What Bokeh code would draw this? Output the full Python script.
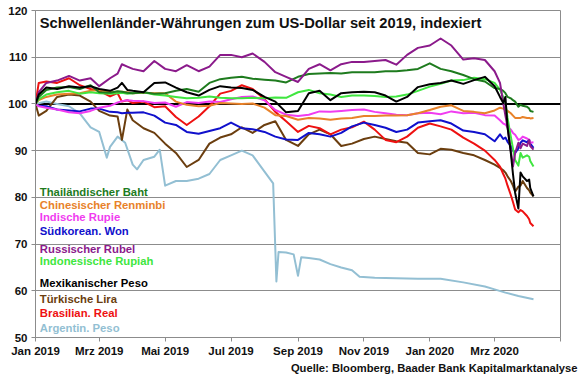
from datetime import datetime
from bokeh.plotting import figure
from bokeh.models import Range1d, FixedTicker, CustomJSTickFormatter, Span, Label, ColumnDataSource, Title
from bokeh.core.properties import value
from bokeh.embed import file_html
from bokeh.resources import INLINE

# ---------------- data ----------------
dates = ["2019-01-01", "2019-01-04", "2019-01-11", "2019-01-21", "2019-02-01", "2019-02-11",
         "2019-02-21", "2019-03-01", "2019-03-11", "2019-03-18", "2019-03-22", "2019-03-27",
         "2019-04-01", "2019-04-11", "2019-04-21", "2019-05-01", "2019-05-11", "2019-05-21",
         "2019-06-01", "2019-06-11", "2019-06-21", "2019-07-01", "2019-07-11", "2019-07-21",
         "2019-08-01", "2019-08-11", "2019-08-21", "2019-09-01", "2019-09-11", "2019-09-21",
         "2019-10-01", "2019-10-11", "2019-10-21", "2019-11-01", "2019-11-11", "2019-11-21",
         "2019-12-01", "2019-12-11", "2019-12-21", "2020-01-01", "2020-01-11", "2020-01-21",
         "2020-02-01", "2020-02-11", "2020-02-21", "2020-03-01", "2020-03-06", "2020-03-09",
         "2020-03-11", "2020-03-13", "2020-03-16", "2020-03-18", "2020-03-20", "2020-03-23",
         "2020-03-25", "2020-03-27", "2020-03-31", "2020-04-02", "2020-04-03", "2020-04-06"]

thb = [100, 101.5, 103, 103.5, 103.6, 103.2, 104, 102.5, 102.4, 102.7, 102.6, 102.4,
       102.3, 102.5, 102.2, 102.3, 102.8, 103.2, 102.6, 104.5, 105.3, 105.6, 105.8, 105.4,
       105.2, 105.0, 104.6, 105.8, 106.4, 106.5, 106.6, 106.5, 106.8, 106.8, 106.8, 107,
       107, 107.2, 107.5, 108.7, 107.5, 107, 106.2, 105.3, 104.8, 103.4, 103.2, 102.8,
       102.3, 101.5, 101.2, 100.8, 100.5, 99.4, 99.8, 99.6, 99.4, 99.0, 98.5, 98.3]

cny = [100, 100.8, 101.5, 102, 102.2, 102.3, 102.8, 103, 102.5, 102.6, 102.6, 102.5,
       102.3, 102.4, 102.3, 102.3, 100.5, 99.8, 99.5, 99.6, 100.2, 100.1, 100, 100.1,
       99.2, 97.6, 97.4, 96.6, 97.0, 96.9, 96.6, 96.9, 97.0, 97.4, 97.4, 97.5,
       97.5, 97.6, 98.0, 98.7, 99.4, 99.7, 98.5, 98.3, 98.0, 98.6, 99.2, 99.0,
       98.8, 98.5, 98.0, 97.5, 97.0, 97.0, 97.0, 97.2, 97.0, 97.0, 96.9, 97.0]

inr = [100, 99.5, 99.2, 98.8, 98.2, 98.0, 98.5, 99.2, 99.6, 100.3, 100.6, 100.8,
       100.7, 100.6, 100.2, 100.3, 99.4, 100.4, 100.2, 100.5, 100.4, 101, 101.5, 101.6,
       100.8, 98.7, 97.7, 97.4, 97.7, 98.4, 98.3, 98.5, 98.7, 98.8, 98.3, 98.0,
       97.7, 97.6, 98.0, 98.1, 97.8, 98.4, 98.0, 98.1, 97.6, 97.5, 96.5, 95.8,
       95.6, 95.0, 94.5, 93.8, 93.4, 92.3, 92.5, 93, 92.6, 92.3, 91.7, 91.8]

krw = [100, 99.6, 99.5, 98.8, 98.6, 98.4, 99.0, 99.0, 98.3, 98.2, 98.0, 98.1,
       98.1, 98.2, 97.5, 96.0, 95.5, 94.0, 93.6, 94.2, 94.8, 96.0, 94.8, 94.6,
       94.0, 93.0, 92.4, 92.3, 93.8, 93.5, 93.0, 93.8, 95.2, 96.0, 95.5, 94.9,
       94.0, 94.5, 96.0, 96.3, 96.5, 95.8, 94.3, 94.0, 93.5, 92.0, 93.5, 92.5,
       92.8, 91.9, 91.0, 90.0, 89.5, 90.5, 91.7, 92.2, 91.8, 92.3, 91.5, 90.6]

rub = [100, 102.5, 104.5, 105, 106, 105, 105.5, 103.8, 105.5, 106.5, 108.5, 108,
       107.5, 107, 109.2, 107.5, 107, 108.3, 107, 108, 110.5, 110.5, 110, 110.8,
       109, 106.8, 105.8, 104.7, 107.5, 108.5, 107.2, 108.5, 109, 109, 109.2, 109.4,
       108.4, 110.5, 112, 112.5, 114, 112.5, 109.5, 109.8, 109.4, 107, 104.5, 100.2,
       97.5, 95, 90, 86.6, 89.5, 91.7, 90.5, 91.5, 91, 92.3, 91, 90.2]

idr = [100, 101, 102, 102.5, 102.8, 102.2, 102.5, 102.3, 102.2, 102.3, 102.4, 102.2,
       102.3, 102.5, 102, 101.8, 101.5, 101.2, 101.3, 101.6, 101.3, 101.2, 101.2, 101.3,
       101.2, 101.4, 101.3, 102.5, 103.0, 102.3, 102, 101.5, 101.8, 101.8, 101.7, 101.5,
       101.6, 102, 102.8, 103.7, 104.3, 105, 105.1, 105.6, 105.3, 104.5, 103, 101.5,
       100.2, 97, 93, 90.5, 88, 86.8, 89.5, 88.5, 89.0, 88.7, 87.8, 86.6]

mxn = [100, 102, 103.5, 103.2, 103.8, 103.5, 103.8, 103.2, 102.8, 103.5, 104.5, 103,
       102.8, 102.5, 104.5, 104.6, 103.5, 102.5, 101.8, 103.0, 103.8, 103.5, 103.4, 103,
       101.5, 100.5, 98.2, 98.5, 102.3, 102.8, 100.8, 102.3, 102.5, 102.6, 102.5, 101.8,
       100.5, 101.5, 103.6, 104.2, 104.5, 105, 104.3, 105.1, 105.8, 103.8, 101.5, 100.2,
       101.5, 95, 89.5, 85, 81, 77.6, 85.3, 84.5, 83.5, 83.8, 82, 80.2]

tryl = [100, 97.5, 98.5, 101.5, 102.0, 101.8, 100.5, 98.5, 97.5, 97.3, 92.3, 98.8,
        96.5, 94.8, 93.8, 91.5, 89.5, 86.5, 88.0, 91.5, 92.8, 93.5, 95.0, 93.8,
        95.5, 96.3, 92.3, 91.0, 93.5, 94.5, 93.5, 91.0, 91.5, 92.5, 93.0, 92.5,
        92.0, 91.7, 89.5, 89.2, 90.4, 90.2, 89.5, 89.0, 88.0, 87.0, 86.3, 85.8,
        85.3, 84.5, 83.5, 82.5, 81.2, 82.3, 82.5, 83.5, 82.0, 81.5, 81.0, 80.2]

brl = [100, 104.5, 104.8, 104.5, 105.5, 104.0, 103.2, 102.8, 101.6, 102.3, 100.5, 100.8,
       100.2, 100.5, 99.3, 99.5, 97.2, 95.5, 97.3, 99.5, 102.2, 102.8, 104.0, 103.2,
       101, 98.3, 96.3, 94.0, 95.3, 94.8, 93.5, 94.5, 95.0, 96.2, 94.5, 92.3,
       91.8, 93.0, 94.9, 95.8, 95.2, 94.5, 92.8, 91.5, 90.0, 88.0, 86.6, 85.0,
       84.0, 82.5, 80.5, 79, 77.4, 76.8, 77.3, 77.0, 76.0, 75.3, 74.5, 73.8]

dates_ars = ["2019-01-01", "2019-01-11", "2019-01-21", "2019-02-01", "2019-02-11", "2019-02-21",
             "2019-03-01", "2019-03-08", "2019-03-11", "2019-03-18", "2019-03-25", "2019-04-01",
             "2019-04-05", "2019-04-11", "2019-04-21", "2019-04-26", "2019-05-01", "2019-05-11",
             "2019-05-21", "2019-06-01", "2019-06-11", "2019-06-21", "2019-07-01", "2019-07-11",
             "2019-07-21", "2019-08-01", "2019-08-09", "2019-08-12", "2019-08-14", "2019-08-21",
             "2019-08-28", "2019-09-01", "2019-09-04", "2019-09-11", "2019-09-21", "2019-10-01",
             "2019-10-11", "2019-10-21", "2019-10-28", "2019-11-11", "2019-12-01", "2019-12-21",
             "2020-01-11", "2020-02-01", "2020-02-21", "2020-03-01", "2020-03-11", "2020-03-23",
             "2020-04-06"]
ars = [100, 100.5, 100.0, 99.5, 98.0, 95.0,
       94.0, 88.5, 90.8, 93.0, 91.7, 87.0,
       86.0, 88.0, 88.7, 90.2, 82.5, 83.5,
       83.5, 84.0, 85.0, 88.0, 89.0, 90.0,
       89.0, 85.5, 83.0, 62.0, 68.3, 68.2,
       67.8, 63.2, 67.2, 67.0, 66.7, 65.7,
       65.0, 64.4, 63.0, 62.8, 62.7, 62.6,
       62.6, 61.8, 60.9, 60.3, 59.6, 58.9,
       58.2]

legend_names = ["Thailändischer Baht", "Chinesischer Renminbi", "Indische Rupie", "Südkorean. Won",
                "Russischer Rubel", "Indonesische Rupiah", "Mexikanischer Peso", "Türkische Lira",
                "Brasilian. Real", "Argentin. Peso"]
colors = ["#1e7b1e", "#e8822a", "#f03cf0", "#1010cc", "#8b1a8b",
          "#40e640", "#000000", "#6b3e0f", "#ee1111", "#93bfd3"]

tick_dates = ["2019-01-01", "2019-03-01", "2019-05-01", "2019-07-01", "2019-09-01",
              "2019-11-01", "2020-01-01", "2020-03-01", "2020-05-01"]
tick_labels = ["Jan 2019", "Mrz 2019", "Mai 2019", "Jul 2019", "Sep 2019",
               "Nov 2019", "Jan 2020", "Mrz 2020", ""]
y_ticks = [50, 60, 70, 80, 90, 100, 110, 120]

title_text = "Schwellenländer-Währungen zum US-Dollar seit 2019, indexiert"
source_text = "Quelle: Bloomberg, Baader Bank Kapitalmarktanalyse"

# ---------------- layout ----------------
legend_y = [81.2, 78.45, 75.7, 72.7, 68.9, 66.3, 61.6, 58.2, 55.2, 52.0]
FONT = "Liberation Sans"


def d(s):
    return datetime.strptime(s, "%Y-%m-%d")


def ms(s):
    return (d(s) - datetime(1970, 1, 1)).total_seconds() * 1000.0


p = figure(width=580, height=375, x_axis_type="datetime", output_backend="svg",
           toolbar_location=None,
           x_range=Range1d(d("2019-01-01"), d("2020-05-01")),
           y_range=Range1d(50, 120))
p.min_border_left = 35
p.min_border_right = 20
p.min_border_top = 10
p.min_border_bottom = 38
p.background_fill_color = "white"
p.border_fill_color = "white"
p.outline_line_color = "#8c8c8c"
p.outline_line_width = 1

# axes
tick_ms = [ms(t) for t in tick_dates]
p.xaxis.ticker = FixedTicker(ticks=tick_ms)
p.xaxis.formatter = CustomJSTickFormatter(
    args=dict(tvals=tick_ms, tlabels=tick_labels),
    code="const i = tvals.indexOf(tick); return i >= 0 ? tlabels[i] : '';")
p.yaxis.ticker = FixedTicker(ticks=y_ticks)
for ax in (p.xaxis[0], p.yaxis[0]):
    ax.axis_line_color = "#8c8c8c"
    ax.major_tick_line_color = "#8c8c8c"
    ax.major_tick_out = 4
    ax.major_tick_in = 0
    ax.minor_tick_line_color = None
    ax.major_label_text_font = FONT
    ax.major_label_text_font_style = "bold"
    ax.major_label_text_font_size = "11.5px"
    ax.major_label_text_color = "#111111"
p.xaxis.major_label_standoff = 3
p.yaxis.major_label_standoff = 4

p.xgrid.grid_line_color = None
p.ygrid.grid_line_color = "#8c8c8c"
p.ygrid.grid_line_width = 1

p.add_layout(Span(location=100, dimension="width", line_color="black", line_width=2,
                  level="underlay"))

# series (drawing order)
xs = [d(s) for s in dates]
series = [
    ([d(s) for s in dates_ars], ars, 9),
    (xs, tryl, 7),
    (xs, brl, 8),
    (xs, krw, 3),
    (xs, inr, 2),
    (xs, cny, 1),
    (xs, idr, 5),
    (xs, thb, 0),
    (xs, rub, 4),
    (xs, mxn, 6),
]
for x, y, i in series:
    p.line(x, y, line_color=colors[i], line_width=2, line_join="round")

# legend as colored texts
leg_src = ColumnDataSource(dict(x=[d("2019-01-05")] * len(legend_names), y=legend_y,
                                text=legend_names, color=colors))
p.text(x="x", y="y", text="text", text_color="color", source=leg_src,
       text_font=value(FONT), text_font_style="bold", text_font_size="11.3px",
       text_baseline="middle", text_align="left")

# title inside plot
p.add_layout(Label(x=d("2019-01-05"), y=117.4, text=title_text, text_font=FONT,
                   text_font_style="bold", text_font_size="14.7px",
                   text_baseline="middle", text_align="left", text_color="#111111"))

# source note below the axis
p.add_layout(Title(text=source_text, align="right", text_font=FONT,
                   text_font_style="bold", text_font_size="11.2px",
                   text_color="#111111", standoff=0, offset=-17), "below")

open("out.html", "w").write(file_html(p, INLINE))
